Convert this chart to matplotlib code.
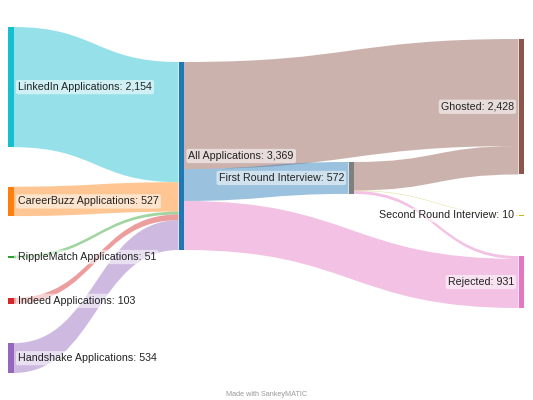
from matplotlib import pyplot as plt
from matplotlib.path import Path
from matplotlib.patches import PathPatch, Rectangle

plt.rcParams['font.family'] = ['Liberation Sans', 'DejaVu Sans']

################ Data ########################
node_names = ["LinkedIn Applications", "CareerBuzz Applications", "RippleMatch Applications",
              "Indeed Applications", "Handshake Applications", "All Applications",
              "First Round Interview", "Ghosted", "Second Round Interview", "Rejected"]
node_cols = [0, 0, 0, 0, 0, 1, 2, 3, 3, 3]
node_colors = ["#17becf", "#ff7f0e", "#2ca02c", "#d62728", "#9467bd", "#1f77b4",
               "#7f7f7f", "#8c564b", "#bcbd22", "#e377c2"]

flow_src = [0, 1, 2, 3, 4, 5, 5, 5, 6, 6, 6]
flow_tgt = [5, 5, 5, 5, 5, 7, 6, 9, 7, 8, 9]
flow_val = [2154, 527, 51, 103, 534, 1918, 572, 879, 510, 10, 52]

################ Layout ######################
W, H = 533, 400
col_x = [8, 178.5, 348.5, 518.5]
col_y0 = [27, 62, 162, 39]
col_gap = [39.5, 39.5, 39.5, 40.5]
node_w = 5.5
top, bottom = 27, 373

n = len(node_names)
node_val = []
for i in range(n):
    vin = sum(v for s, t, v in zip(flow_src, flow_tgt, flow_val) if t == i)
    vout = sum(v for s, t, v in zip(flow_src, flow_tgt, flow_val) if s == i)
    node_val.append(max(vin, vout))

ncol = max(node_cols) + 1
ky = min((bottom - top - col_gap[c] * (node_cols.count(c) - 1)) /
         sum(node_val[i] for i in range(n) if node_cols[i] == c) for c in range(ncol))

node_y0 = [0] * n
for c in range(ncol):
    y = col_y0[c]
    for i in range(n):
        if node_cols[i] == c:
            node_y0[i] = y
            y += node_val[i] * ky + col_gap[c]

# flow positions: source end ordered by target, target end ordered by source end
flow_sy = [0] * len(flow_val)
flow_ty = [0] * len(flow_val)
for i in range(n):
    outs = sorted([k for k in range(len(flow_val)) if flow_src[k] == i], key=lambda k: node_y0[flow_tgt[k]])
    y = node_y0[i]
    for k in outs:
        flow_sy[k] = y
        y += flow_val[k] * ky
for i in range(n):
    ins = sorted([k for k in range(len(flow_val)) if flow_tgt[k] == i], key=lambda k: flow_sy[k])
    y = node_y0[i]
    for k in ins:
        flow_ty[k] = y
        y += flow_val[k] * ky

################ Plot ########################
fig = plt.figure(figsize=(W / 100, H / 100), dpi=100)
ax = fig.add_axes([0, 0, 1, 1])
ax.set_xlim(0, W)
ax.set_ylim(H, 0)
ax.axis('off')

for k in range(len(flow_val)):
    s, t = flow_src[k], flow_tgt[k]
    x0 = col_x[node_cols[s]] + node_w
    x1 = col_x[node_cols[t]]
    xm = (x0 + x1) / 2
    h = flow_val[k] * ky
    a, b = flow_sy[k], flow_ty[k]
    verts = [(x0, a), (xm, a), (xm, b), (x1, b), (x1, b + h),
             (xm, b + h), (xm, a + h), (x0, a + h), (x0, a)]
    codes = [Path.MOVETO, Path.CURVE4, Path.CURVE4, Path.CURVE4, Path.LINETO,
             Path.CURVE4, Path.CURVE4, Path.CURVE4, Path.CLOSEPOLY]
    col = node_colors[s] if node_cols[s] + node_cols[t] <= 3 else node_colors[t]
    ax.add_patch(PathPatch(Path(verts, codes), fc=col, ec='none', alpha=0.45, zorder=1))

for i in range(n):
    c = node_cols[i]
    h = node_val[i] * ky
    ax.add_patch(Rectangle((col_x[c], node_y0[i]), node_w, h, fc=node_colors[i], ec='none', zorder=2))
    label = f"{node_names[i]}: {node_val[i]:,}"
    yc = node_y0[i] + h / 2
    box = dict(boxstyle='round,pad=0.2', fc='white', ec='none', alpha=0.55)
    if c < 2:
        ax.text(col_x[c] + node_w + 4.5, yc, label, ha='left', va='center', fontsize=7.7,
                color='#222222', bbox=box, zorder=3)
    else:
        ax.text(col_x[c] - 4.5, yc, label, ha='right', va='center', fontsize=7.7,
                color='#222222', bbox=box, zorder=3)

ax.text(W / 2, 394, "Made with SankeyMATIC", ha='center', va='center', fontsize=5.2, color='#999999')

plt.savefig('out.png', dpi=100)
